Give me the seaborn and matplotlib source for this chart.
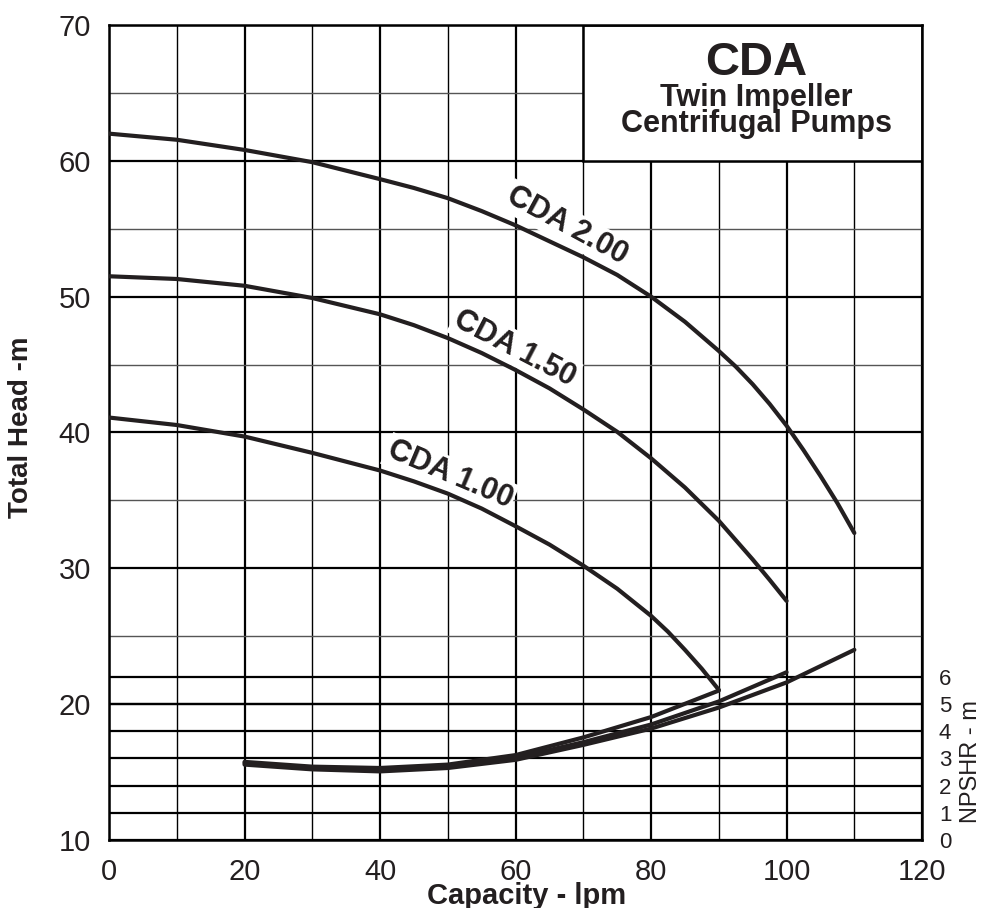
import numpy as np
import pandas as pd
import matplotlib.pyplot as plt
import seaborn as sns
from matplotlib.patches import Rectangle
from matplotlib.ticker import FixedLocator

# pump head curves: capacity (lpm) vs total head (m)
cap_200 = [0, 10, 20, 30, 40, 45, 50, 55, 60, 70, 75, 80, 85, 90, 92.5, 95, 97.5,
           100, 102.5, 105, 107.5, 110]
head_200 = [62.0, 61.55, 60.8, 59.9, 58.65, 58.0, 57.25, 56.3, 55.25, 52.9, 51.6, 50.0,
            48.15, 46.0, 44.85, 43.55, 42.1, 40.5, 38.7, 36.8, 34.8, 32.6]

cap_150 = [0, 10, 20, 30, 40, 45, 50, 55, 60, 65, 70, 75, 80, 85, 90, 95, 97.5, 100]
head_150 = [51.5, 51.3, 50.8, 49.9, 48.7, 47.9, 46.95, 45.85, 44.6, 43.25, 41.7, 40.05,
            38.1, 35.95, 33.5, 30.65, 29.15, 27.6]

cap_100 = [0, 10, 20, 30, 40, 45, 50, 55, 60, 65, 70, 75, 80, 82.5, 85, 87.5, 90]
head_100 = [41.1, 40.55, 39.7, 38.5, 37.2, 36.4, 35.5, 34.4, 33.1, 31.75, 30.2, 28.5,
            26.5, 25.33, 24.0, 22.6, 21.05]

# NPSHR curves (m), read against the right hand scale
npsh_cap_100 = [20, 30, 40, 50, 60, 70, 80, 90]
npsh_100 = [2.875, 2.7, 2.65, 2.775, 3.125, 3.775, 4.525, 5.5]

npsh_cap_150 = [20, 30, 40, 50, 60, 70, 80, 90, 100]
npsh_150 = [2.825, 2.65, 2.6, 2.725, 3.025, 3.6, 4.25, 5.1, 6.175]

npsh_cap_200 = [20, 30, 40, 50, 60, 70, 80, 90, 100, 110]
npsh_200 = [2.775, 2.6, 2.525, 2.65, 2.95, 3.5, 4.1, 4.875, 5.8, 7.0]

x_ticks = [0, 20, 40, 60, 80, 100, 120]
head_ticks = [10, 20, 30, 40, 50, 60, 70]
npshr_ticks = [0, 1, 2, 3, 4, 5, 6]

INK = "#231f20"


def npshr_to_head(n):
    return 10 + 2 * np.asarray(n, dtype=float)


def head_to_npshr(h):
    return (np.asarray(h, dtype=float) - 10) / 2


sns.set_theme(style="white")
plt.rcParams["font.family"] = ["Liberation Sans", "DejaVu Sans"]

fig = plt.figure(figsize=(9.82, 9.08), dpi=100)
ax = fig.add_axes([0.111, 0.0749, 0.828, 0.8976])

# grid: heavy every 20 lpm / 10 m, light in between
ax.set_xlim(0, 120)
ax.set_ylim(10, 70)
ax.set_xticks(x_ticks)
ax.set_yticks(head_ticks)
ax.xaxis.set_minor_locator(FixedLocator([10, 30, 50, 70, 90, 110]))
ax.yaxis.set_minor_locator(FixedLocator([25, 35, 45, 55, 65]))
ax.set_axisbelow(True)
ax.grid(which="major", color="black", linewidth=1.6)
ax.grid(which="minor", axis="x", color="black", linewidth=1.0)
ax.grid(which="minor", axis="y", color="#555555", linewidth=1.0)
ax.hlines(npshr_to_head(npshr_ticks[1:]), 0, 120, color="black", linewidth=1.6, zorder=0.6)

# title box in the top right corner
ax.add_patch(Rectangle((70, 60), 50, 10, facecolor="white", edgecolor="black",
                       linewidth=1.8, zorder=2))
ax.text(95.5, 67.2, "CDA", ha="center", va="center", fontsize=34,
        fontweight="bold", color=INK, zorder=4)
ax.text(95.5, 64.65, "Twin Impeller", ha="center", va="center", fontsize=22,
        fontweight="bold", color=INK, zorder=4)
ax.text(95.5, 62.7, "Centrifugal Pumps", ha="center", va="center", fontsize=22,
        fontweight="bold", color=INK, zorder=4)

# head curves
for cap, head in [(cap_200, head_200), (cap_150, head_150), (cap_100, head_100)]:
    sns.lineplot(x=cap, y=head, ax=ax, color=INK, linewidth=3.0, zorder=3,
                 estimator=None, sort=False, solid_joinstyle="round")

# NPSHR curves share the lower part of the chart
for cap, npsh in [(npsh_cap_100, npsh_100), (npsh_cap_150, npsh_150), (npsh_cap_200, npsh_200)]:
    sns.lineplot(x=cap, y=npshr_to_head(npsh), ax=ax, color=INK, linewidth=3.0,
                 zorder=3, estimator=None, sort=False, solid_joinstyle="round")

label_box = dict(facecolor="white", edgecolor="none", pad=1.5)
ax.text(67.6, 55.2, "CDA 2.00", rotation=-28.5, ha="center", va="center", fontsize=22,
        fontweight="bold", color=INK, bbox=label_box, zorder=2.5)
ax.text(59.9, 46.2, "CDA 1.50", rotation=-27.5, ha="center", va="center", fontsize=22,
        fontweight="bold", color=INK, bbox=label_box, zorder=2.5)
ax.text(50.3, 36.9, "CDA 1.00", rotation=-23, ha="center", va="center", fontsize=22,
        fontweight="bold", color=INK, bbox=label_box, zorder=2.5)

for side in ["left", "right", "top", "bottom"]:
    ax.spines[side].set_color("black")
    ax.spines[side].set_linewidth(1.8)

ax.tick_params(which="both", length=0, labelsize=21, labelcolor=INK, pad=13)
ax.set_xlabel("Capacity - lpm", fontsize=21, fontweight="bold", color=INK)
ax.set_ylabel("Total Head -m", fontsize=20, fontweight="bold", color=INK)
ax.xaxis.set_label_coords(0.514, -0.051)
ax.yaxis.set_label_coords(-0.092, 0.506)

# right hand NPSHR scale
sec = ax.secondary_yaxis("right", functions=(head_to_npshr, npshr_to_head))
sec.set_yticks(npshr_ticks)
sec.tick_params(length=0, labelsize=16, labelcolor=INK, pad=12)
sec.spines["right"].set_visible(False)
fig.text(971 / 982, 1 - 762 / 908, "NPSHR - m", rotation=90, ha="center", va="center",
         fontsize=17, color=INK)

fig.savefig("out.png", dpi=100, facecolor="white")
plt.close(fig)
